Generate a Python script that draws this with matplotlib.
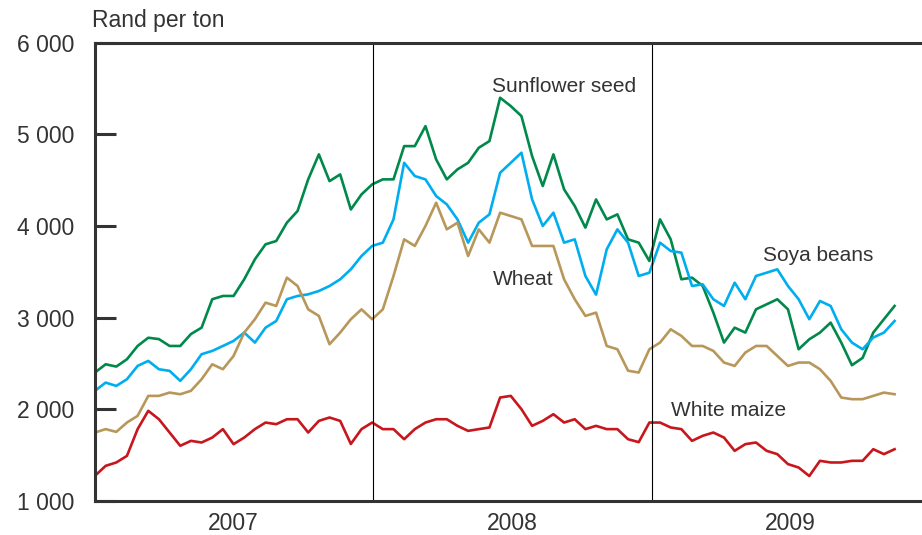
import matplotlib
matplotlib.use("Agg")
import matplotlib.pyplot as plt
import matplotlib.dates as mdates
import matplotlib.ticker as mticker
import pandas as pd

# fortnightly prices, rand per ton, from start of 2007
dates = pd.date_range("2007-01-01", periods=76, freq="14D")

sunflower = [2400, 2490, 2465, 2545, 2690, 2780, 2765, 2690, 2690, 2820,
             2890, 3200, 3236, 3236, 3418, 3636, 3800, 3836, 4036, 4163,
             4509, 4782, 4490, 4563, 4180, 4345, 4454, 4509, 4509, 4872,
             4872, 5090, 4727, 4509, 4618, 4690, 4854, 4927, 5400, 5309,
             5200, 4763, 4436, 4782, 4400, 4218, 3982, 4290, 4072, 4127,
             3854, 3818, 3618, 4072, 3854, 3418, 3436, 3345, 3054, 2727,
             2890, 2836, 3090, 3145, 3200, 3090, 2654, 2763, 2836, 2945,
             2727, 2480, 2560, 2836, 2982, 3127]

soya = [2200, 2290, 2254, 2327, 2472, 2527, 2436, 2418, 2309, 2436,
        2600, 2636, 2690, 2745, 2836, 2727, 2890, 2963, 3200, 3236,
        3254, 3290, 3345, 3418, 3527, 3672, 3782, 3818, 4072, 4690,
        4545, 4509, 4327, 4236, 4072, 3818, 4036, 4127, 4581, 4690,
        4800, 4290, 4000, 4145, 3818, 3854, 3454, 3250, 3745, 3963,
        3818, 3454, 3490, 3818, 3727, 3709, 3345, 3363, 3200, 3127,
        3381, 3200, 3454, 3490, 3527, 3345, 3200, 2982, 3181, 3127,
        2872, 2727, 2654, 2782, 2836, 2963]

wheat = [1745, 1782, 1752, 1854, 1927, 2145, 2145, 2181, 2163, 2200,
         2327, 2490, 2436, 2581, 2836, 2982, 3163, 3127, 3436, 3345,
         3090, 3018, 2709, 2836, 2982, 3090, 2982, 3090, 3454, 3854,
         3782, 4000, 4254, 3963, 4036, 3672, 3963, 3818, 4145, 4109,
         4072, 3782, 3782, 3782, 3418, 3200, 3018, 3054, 2690, 2654,
         2420, 2400, 2654, 2727, 2872, 2800, 2690, 2690, 2636, 2509,
         2472, 2618, 2690, 2690, 2581, 2472, 2509, 2509, 2436, 2309,
         2127, 2109, 2109, 2145, 2181, 2163]

white_maize = [1272, 1381, 1418, 1490, 1782, 1982, 1890, 1745, 1600, 1654,
               1636, 1690, 1782, 1618, 1690, 1782, 1854, 1836, 1890, 1890,
               1745, 1872, 1909, 1872, 1620, 1782, 1854, 1782, 1782, 1672,
               1782, 1854, 1890, 1890, 1818, 1763, 1782, 1800, 2127, 2145,
               2000, 1818, 1872, 1945, 1854, 1890, 1782, 1818, 1782, 1782,
               1672, 1640, 1854, 1854, 1800, 1782, 1654, 1709, 1745, 1690,
               1545, 1618, 1636, 1545, 1509, 1400, 1363, 1270, 1436, 1418,
               1418, 1436, 1436, 1563, 1509, 1563]

plt.rcParams["font.family"] = ["Liberation Sans", "DejaVu Sans"]
ink = "#333333"

fig = plt.figure(figsize=(9.22, 5.35), dpi=100)
ax = fig.add_axes([0.103, 0.064, 0.897, 0.856])

ax.plot(dates, sunflower, color="#00894a", lw=1.9)
ax.plot(dates, soya, color="#00aeef", lw=1.9)
ax.plot(dates, wheat, color="#b8975a", lw=1.9)
ax.plot(dates, white_maize, color="#c8161d", lw=1.9)

start = pd.Timestamp("2007-01-01")
ax.set_xlim(start, start + pd.Timedelta(days=1086))
ax.set_ylim(1000, 6000)

# year dividers
for yr in ["2008-01-01", "2009-01-01"]:
    ax.axvline(pd.Timestamp(yr), color="black", lw=0.8)

ax.spines["right"].set_visible(False)
for side in ["left", "top", "bottom"]:
    ax.spines[side].set_linewidth(2.2)
    ax.spines[side].set_color(ink)

ax.set_yticks(range(1000, 6001, 1000))
ax.yaxis.set_major_formatter(mticker.FuncFormatter(lambda v, p: f"{int(v):,}".replace(",", " ")))
ax.tick_params(axis="y", direction="in", length=15, width=2.2, color=ink,
               pad=15, labelsize=16.5, labelcolor=ink)

ax.xaxis.set_major_locator(mdates.YearLocator())
ax.xaxis.set_major_formatter(mticker.NullFormatter())
ax.xaxis.set_minor_locator(mdates.MonthLocator(bymonth=7, bymonthday=2))
ax.xaxis.set_minor_formatter(mdates.DateFormatter("%Y"))
ax.tick_params(axis="x", which="both", length=0, pad=8, labelsize=16.5, labelcolor=ink)

fig.text(0.1, 0.962, "Rand per ton", fontsize=16.5, color=ink, va="center")

ax.text(pd.Timestamp("2008-06-06"), 5520, "Sunflower seed", fontsize=15, color=ink, va="center")
ax.text(pd.Timestamp("2009-05-27"), 3680, "Soya beans", fontsize=15, color=ink, va="center")
ax.text(pd.Timestamp("2008-06-06"), 3420, "Wheat", fontsize=15, color=ink, va="center")
ax.text(pd.Timestamp("2009-01-27"), 1990, "White maize", fontsize=15, color=ink, va="center")

fig.savefig("out.png", dpi=100)
